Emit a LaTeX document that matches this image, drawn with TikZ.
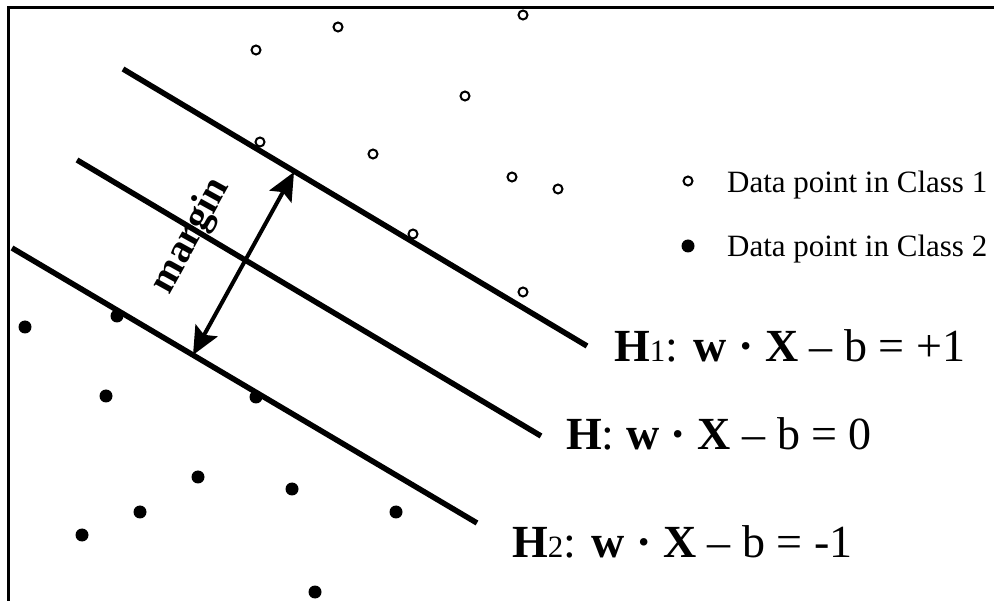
\documentclass[tikz,border=0pt]{standalone}
\usepackage{fontspec}
\setmainfont{Liberation Serif}
\usetikzlibrary{arrows.meta}
\tikzset{
  hplane/.style={line width=5.5pt},
  classone/.style={line width=2pt},
  eqtext/.style={anchor=base west,font=\fontsize{46}{46}\selectfont,inner sep=0pt},
  legtext/.style={anchor=base west,font=\fontsize{31}{31}\selectfont,inner sep=0pt}
}
\newcommand{\hsub}[1]{{\fontsize{31}{31}\selectfont #1}}
\begin{document}
\begin{tikzpicture}[x=1pt,y=-1pt]
\useasboundingbox (0,0) rectangle (994,601);
\coordinate (A1) at (123,69);
\coordinate (B1) at (587,346);
\coordinate (A0) at (77,160);
\coordinate (B0) at (541,436);
\coordinate (A2) at (12,248);
\coordinate (B2) at (477,523);
\coordinate (M1) at (294,172);
\coordinate (M2) at (193,355);

\draw[line width=3pt] (8,601)--(8,8)--(994,8);

\draw[hplane] (A1)--(B1);
\draw[hplane] (A0)--(B0);
\draw[hplane] (A2)--(B2);

\draw[line width=4pt,{Stealth[length=28pt,width=25pt,inset=5pt]}-{Stealth[length=28pt,width=25pt,inset=5pt]}] (M1)--(M2);
\node[rotate=61,font=\fontsize{40}{40}\selectfont\bfseries] (margin) at (191,236) {margin};

% class 1
\foreach \x/\y in {256/50,338/27,523/15,465/96,260/142,373/154,512/177,558/189,413/234,523/292}
  \draw[classone,fill=white] (\x,\y) circle (4.5pt);
% class 2
\foreach \x/\y in {25/327,117/316,106/396,256/397,198/477,292/489,140/512,396/512,82/535,315/592}
  \fill (\x,\y) circle (6.5pt);

\draw[classone] (688,181) circle (4.5pt);
\fill (688,246) circle (6.5pt);
\node[legtext] (leg1) at (727,193) {Data point in Class 1};
\node[legtext] (leg2) at (727,257) {Data point in Class 2};

\node[eqtext] (eq1) at (614,362) {\textbf{H}\hsub{1}: \textbf{w} \textbf{\textperiodcentered} \textbf{X} – b = +1};
\node[eqtext] (eq0) at (566,450) {\textbf{H}: \textbf{w} \textbf{\textperiodcentered} \textbf{X} – b = 0};
\node[eqtext] (eq2) at (512,558) {\textbf{H}\hsub{2}: \textbf{w} \textbf{\textperiodcentered} \textbf{X} – b = -1};
\end{tikzpicture}
\end{document}
